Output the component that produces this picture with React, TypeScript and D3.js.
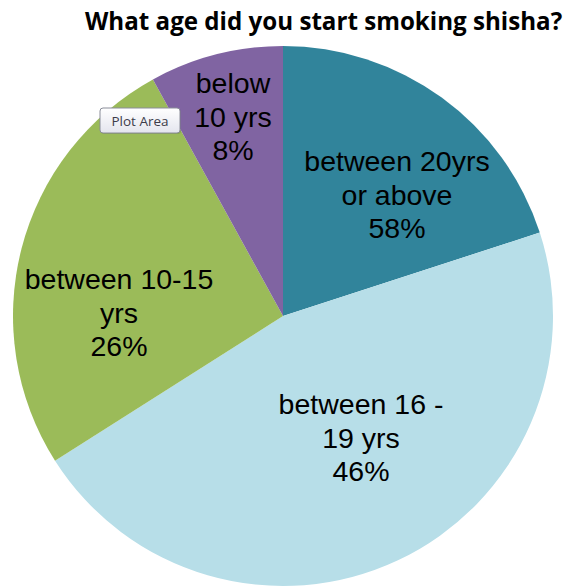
import React, { useLayoutEffect, useRef, useState } from "react";
import * as d3 from "d3";

const categories = ["between 20yrs or above", "between 16 - 19 yrs", "between 10-15 yrs", "below 10 yrs"];
const sliceValues = [20, 46, 26, 8];
const labelLines = [
  ["between 20yrs", "or above", "58%"],
  ["between 16 -", "19 yrs", "46%"],
  ["between 10-15", "yrs", "26%"],
  ["below", "10 yrs", "8%"],
];
const colors = ["#31849B", "#B7DEE8", "#9BBB59", "#8064A2"];
const title = "What age did you start smoking shisha?";

const W = 569;
const H = 587;
const cx = 283;
const cy = 316;
const R = 270;
// label anchor points (center x, first baseline y) per slice
const labelPos: [number, number][] = [
  [397, 171],
  [361, 414],
  [119, 289],
  [233, 93],
];
const lineGap = 33.7;
const titleWidth = 477;

export default function App() {
  const pie = d3.pie<number>().sort(null).value((d) => d);
  const arcs = pie(sliceValues);
  const arc = d3.arc<d3.PieArcDatum<number>>().innerRadius(0).outerRadius(R);
  const titleRef = useRef<SVGTextElement>(null);
  const [sx, setSx] = useState(0.82);

  useLayoutEffect(() => {
    if (titleRef.current) {
      const w = titleRef.current.getComputedTextLength();
      if (w > 0) setSx(titleWidth / w);
    }
  }, []);

  return (
    <svg
      width={W}
      height={H}
      style={{ position: "absolute", left: 0, top: 0, background: "#fff" }}
    >
      <defs>
        <linearGradient id="tip" x1="0" y1="0" x2="0" y2="1">
          <stop offset="0" stopColor="#ffffff" />
          <stop offset="1" stopColor="#e4e5ee" />
        </linearGradient>
      </defs>
      <g transform={`translate(85,29.5) scale(${sx},1)`}>
        <text
          ref={titleRef}
          x={0}
          y={0}
          fontFamily="'Open Sans', Lato, sans-serif"
          fontWeight="bold"
          fontSize={25.5}
          fill="#000"
        >
          {title}
        </text>
      </g>
      <g transform={`translate(${cx},${cy})`}>
        {arcs.map((a, i) => (
          <path key={categories[i]} d={arc(a) || ""} fill={colors[i]} />
        ))}
      </g>
      {labelLines.map((lines, i) => (
        <text
          key={"l" + i}
          textAnchor="middle"
          fontFamily="'Liberation Sans', Arial, sans-serif"
          fontSize={28.5}
          fill="#000"
        >
          {lines.map((t, j) => (
            <tspan key={j} x={labelPos[i][0]} y={labelPos[i][1] + j * lineGap}>
              {t}
            </tspan>
          ))}
        </text>
      ))}
      <g>
        <rect x={101} y={109} width={80} height={25} rx={3} fill="#000" opacity={0.12} />
        <rect x={100} y={108} width={80} height={25} rx={3} fill="url(#tip)" stroke="#8a8d99" strokeWidth={1} />
        <text
          x={140}
          y={125.5}
          textAnchor="middle"
          fontFamily="'Open Sans', 'DejaVu Sans', sans-serif"
          fontSize={13.5}
          fill="#3c3c4a"
        >
          Plot Area
        </text>
      </g>
    </svg>
  );
}
